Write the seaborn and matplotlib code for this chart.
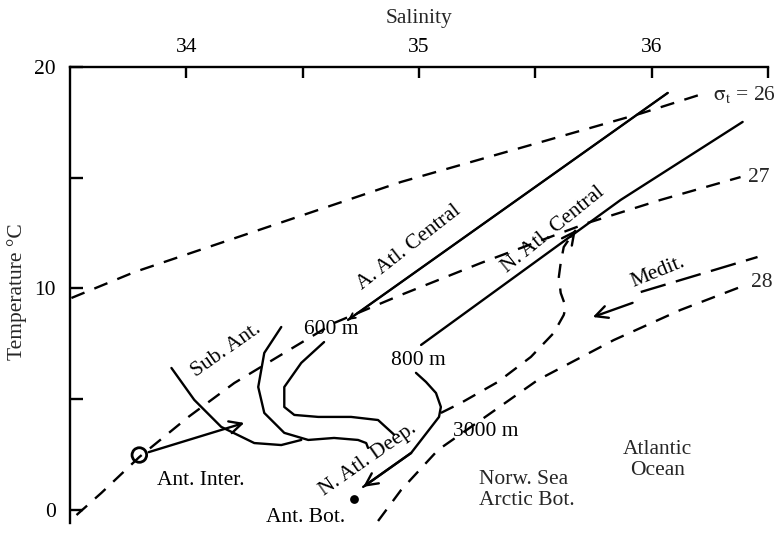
import numpy as np
import pandas as pd
import matplotlib
matplotlib.use("Agg")
import matplotlib.pyplot as plt
import seaborn as sns

# ---------------- data (salinity S, temperature T) ----------------
sigma26_S = [33.506, 33.777, 34.923, 35.554, 35.953, 36.223]
sigma26_T = [9.57, 10.74, 14.81, 16.70, 17.90, 18.80]

sigma27_S = [33.528, 33.635, 33.798, 34.009, 34.206, 34.421, 34.635, 34.923, 35.266, 35.725, 36.039, 36.382]
sigma27_T = [-0.23, 0.77, 2.39, 4.20, 5.73, 7.09, 8.44, 9.71, 11.15, 12.96, 14.00, 15.03]

sigma28_S = [34.824, 34.923, 35.082, 35.266, 35.511, 35.837, 36.124, 36.382]
sigma28_T = [-0.50, 0.90, 2.71, 4.06, 5.87, 7.67, 9.03, 10.07]

a_atl_central_S = [34.695, 36.069]
a_atl_central_T = [8.58, 18.83]

n_atl_central_S = [35.009, 35.867, 36.391]
n_atl_central_T = [7.45, 14.00, 17.52]

n_atl_deep_S = [34.987, 35.030, 35.073, 35.094, 35.086, 34.966, 34.760]
n_atl_deep_T = [6.19, 5.78, 5.28, 4.65, 4.20, 2.57, 1.04]

path3000_S = [35.094, 35.180, 35.339, 35.481, 35.579, 35.622, 35.631, 35.609, 35.601, 35.609, 35.622, 35.652, 35.674]
path3000_T = [4.38, 4.83, 5.78, 6.91, 7.99, 8.80, 9.16, 9.80, 10.52, 11.15, 11.87, 12.33, 12.64]

sub_ant1_S = [33.936, 34.034, 34.150, 34.292, 34.408, 34.494]
sub_ant1_T = [6.41, 4.97, 3.75, 3.02, 2.93, 3.16]

sub_ant2_S = [34.408, 34.335, 34.309, 34.335, 34.421, 34.524, 34.635, 34.738, 34.773, 34.781]
sub_ant2_T = [8.26, 7.09, 5.55, 4.38, 3.48, 3.16, 3.25, 3.16, 3.02, 2.80]

m600_S = [34.592, 34.494, 34.421, 34.421, 34.464, 34.567, 34.708, 34.824, 34.871, 34.893]
m600_T = [7.58, 6.64, 5.55, 4.65, 4.29, 4.20, 4.20, 4.06, 3.61, 3.40]

medit_S = [35.953, 36.455]
medit_T = [9.84, 11.42]

ant_inter_S, ant_inter_T = 33.798, 2.48
ant_bot_S, ant_bot_T = 34.721, 0.50

x_ticks = [34, 34.5, 35, 35.5, 36, 36.5]
x_ticklabels = ["34", "", "35", "", "36", ""]
y_ticks = [0, 5, 10, 15, 20]
y_ticklabels = ["0", "", "10", "", "20"]

# ---------------- style ----------------
sns.set_style("white")
plt.rcParams["font.family"] = ["Liberation Serif", "DejaVu Serif"]
plt.rcParams["mathtext.fontset"] = "stix"
FS = 15.5

fig = plt.figure(figsize=(7.76, 5.33), dpi=100)
ax = fig.add_axes([70 / 776, 1 - 523 / 533, (768 - 70) / 776, (523 - 67) / 533])
ax.set_xlim(33.5, 36.5)
ax.set_ylim(-0.59, 20)

LW = 1.7
dash = (0, (6, 4.5))
longdash = (0, (11, 4.5))


def draw(S, T, ls="-", lw=LW):
    sns.lineplot(x=S, y=T, sort=False, estimator=None, color="black",
                 linewidth=lw, linestyle=ls, ax=ax, legend=False)


draw(sigma26_S, sigma26_T, dash)
draw(sigma27_S, sigma27_T, dash)
draw(sigma28_S, sigma28_T, dash)
draw(path3000_S, path3000_T, dash)
draw(medit_S, medit_T, longdash)
draw(a_atl_central_S, a_atl_central_T)
draw(n_atl_central_S, n_atl_central_T)
draw(n_atl_deep_S, n_atl_deep_T)
draw(sub_ant1_S, sub_ant1_T)
draw(sub_ant2_S, sub_ant2_T)
draw(m600_S, m600_T)

# markers
sns.scatterplot(x=[ant_inter_S], y=[ant_inter_T], ax=ax, s=110, marker="o",
                facecolor="none", edgecolor="black", linewidth=2, zorder=5)
sns.scatterplot(x=[ant_bot_S], y=[ant_bot_T], ax=ax, s=40, marker="o",
                color="black", linewidth=0, zorder=5)

arrow_kw = dict(arrowstyle="->", color="black", lw=LW, mutation_scale=22,
                shrinkA=0, shrinkB=0)
# arrowheads on path ends
ax.annotate("", xy=(n_atl_deep_S[-1], n_atl_deep_T[-1]),
            xytext=(n_atl_deep_S[-2], n_atl_deep_T[-2]), arrowprops=arrow_kw)
ax.annotate("", xy=(path3000_S[-1], path3000_T[-1]),
            xytext=(path3000_S[-2], path3000_T[-2]), arrowprops=arrow_kw)
ax.annotate("", xy=(a_atl_central_S[0], a_atl_central_T[0]),
            xytext=(a_atl_central_S[1], a_atl_central_T[1]),
            arrowprops=dict(arrow_kw, mutation_scale=10, lw=1.3))
# Ant. Inter. arrow
ax.annotate("", xy=(34.249, 3.93), xytext=(ant_inter_S, ant_inter_T),
            arrowprops=dict(arrow_kw, shrinkA=7))
# Medit arrow
ax.annotate("", xy=(35.747, 8.71), xytext=(35.918, 9.35), arrowprops=arrow_kw)

# labels
tk = dict(fontsize=FS, color="black", ha="center", va="center")
ax.text(34.172, 7.22, "Sub. Ant.", rotation=35, **tk)
ax.text(34.622, 8.13, "600 m", **tk)
ax.text(34.957, 11.83, "A. Atl. Central", rotation=38, **tk)
ax.text(35.575, 12.64, "N. Atl. Central", rotation=39, **tk)
ax.text(34.996, 6.77, "800 m", **tk)
ax.text(35.288, 3.52, "3000 m", **tk)
ax.text(34.781, 2.26, "N. Atl. Deep.", rotation=35, **tk)
ax.text(34.064, 1.35, "Ant. Inter.", **tk)
ax.text(34.511, -0.32, "Ant. Bot.", **tk)
ax.text(35.258, 0.90, "Norw. Sea\nArctic Bot.", fontsize=FS, ha="left",
        va="center", linespacing=1.15)
ax.text(36.026, 2.26, "Atlantic\nOcean", fontsize=FS, ha="center",
        va="center", linespacing=1.15)
ax.text(36.026, 10.74, "Medit.", rotation=22, **tk)
ax.text(36.262, 18.74, r"$\mathrm{\sigma_t}$ = 26", fontsize=FS, ha="left", va="center")
ax.text(36.412, 15.03, "27", fontsize=FS, ha="left", va="center")
ax.text(36.425, 10.29, "28", fontsize=FS, ha="left", va="center")

# axes styling
for side in ["bottom", "right"]:
    ax.spines[side].set_visible(False)
for side in ["top", "left"]:
    ax.spines[side].set_visible(True)
    ax.spines[side].set_linewidth(1.7)
    ax.spines[side].set_color("black")

ax.xaxis.tick_top()
ax.xaxis.set_label_position("top")
ax.set_xticks(x_ticks)
ax.set_xticklabels(x_ticklabels)
ax.set_yticks(y_ticks)
ax.set_yticklabels(y_ticklabels)
ax.tick_params(axis="x", direction="in", length=8, width=1.7, pad=7,
               labelsize=FS, top=True, bottom=False, colors="black")
ax.tick_params(axis="y", direction="in", length=9, width=1.7, pad=10,
               labelsize=FS, left=True, right=False, colors="black")
ax.set_xlabel("Salinity", fontsize=FS)
ax.xaxis.set_label_coords(0.5, 1 + (67 - 18) / 456)
ax.xaxis.label.set_va("center")
ax.set_ylabel("Temperature °C", fontsize=FS)
ax.yaxis.set_label_coords((17 - 70) / 698, (523 - 292) / 456)
ax.yaxis.label.set_va("center")
ax.grid(False)

fig.savefig("out.png", dpi=100)
